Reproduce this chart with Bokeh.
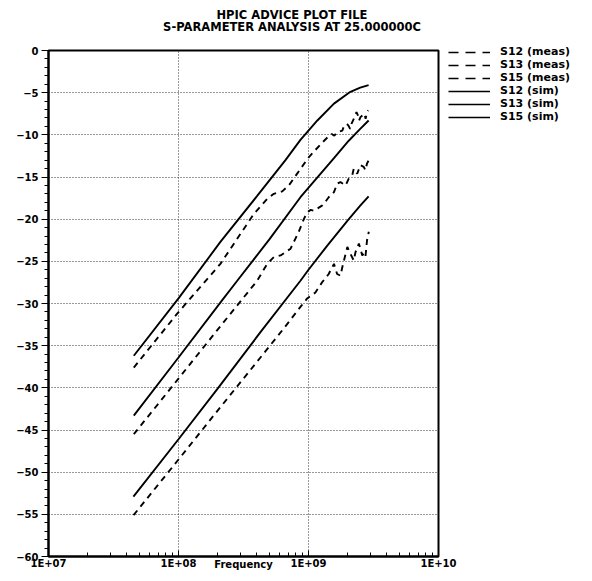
from bokeh.plotting import figure
from bokeh.layouts import column, row
from bokeh.models import (Range1d, FixedTicker, CustomJSTickFormatter, Div,
                          Legend, LegendItem)
from bokeh.embed import file_html
from bokeh.resources import INLINE

# ---------------- data ----------------
title_lines = ["HPIC ADVICE PLOT FILE", "S-PARAMETER ANALYSIS AT 25.000000C"]
x_label = "Frequency"
x_ticks = [1e7, 1e8, 1e9, 1e10]
x_tick_labels = ["1E+07", "1E+08", "1E+09", "1E+10"]
y_ticks = [0, -5, -10, -15, -20, -25, -30, -35, -40, -45, -50, -55, -60]
series_names = ["S12 (meas)", "S13 (meas)", "S15 (meas)",
                "S12 (sim)", "S13 (sim)", "S15 (sim)"]

# simulated (Hz, dB)
f_s12_sim = [4.53e7, 1.0e8, 2.1e8, 4.0e8, 6.65e8, 8.67e8, 1.17e9, 1.57e9, 2.1e9, 2.5e9, 2.9e9]
s12_sim = [-36.2, -29.4, -22.7, -17.3, -13.0, -10.6, -8.3, -6.3, -4.9, -4.4, -4.1]

f_s13_sim = [4.53e7, 1.0e8, 2.17e8, 2.83e8, 5.0e8, 8.67e8, 1.24e9, 1.6e9, 2.04e9, 2.5e9, 2.9e9]
s13_sim = [-43.3, -36.4, -29.6, -27.3, -22.4, -17.4, -14.6, -12.6, -10.7, -9.3, -8.3]

f_s15_sim = [4.5e7, 1.0e8, 2.0e8, 4.27e8, 8.67e8, 1.0e9, 1.4e9, 1.99e9, 2.5e9, 2.9e9]
s15_sim = [-52.9, -46.1, -40.1, -33.4, -27.3, -26.0, -23.1, -20.2, -18.4, -17.3]

# measured (Hz, dB)
f_s12_meas = [4.53e7, 9.77e7, 2.1e8, 3.79e8, 4.81e8, 5.41e8, 6.28e8, 7.06e8, 8.18e8,
              9.48e8, 1.0e9, 1.26e9, 1.40e9, 1.51e9, 1.58e9, 1.66e9, 1.82e9, 1.86e9,
              1.97e9, 2.03e9, 2.09e9, 2.14e9, 2.26e9, 2.34e9, 2.40e9, 2.45e9, 2.51e9,
              2.69e9, 2.75e9, 2.82e9, 2.88e9]
s12_meas = [-37.6, -31.2, -25.3, -19.4, -17.6, -17.0, -16.7, -16.0, -14.6,
            -13.2, -12.7, -11.0, -10.3, -9.9, -10.1, -9.7, -9.5, -9.1,
            -8.7, -8.9, -9.3, -8.7, -7.9, -7.3, -7.7, -8.3, -7.9,
            -7.5, -8.1, -7.3, -7.1]

f_s13_meas = [4.53e7, 1.0e8, 2.0e8, 4.03e8, 4.81e8, 5.41e8, 6.1e8, 7.28e8, 8.41e8,
              9.2e8, 9.77e8, 1.04e9, 1.1e9, 1.27e9, 1.31e9, 1.43e9, 1.48e9, 1.57e9,
              1.66e9, 1.76e9, 1.93e9, 2.04e9, 2.17e9, 2.23e9, 2.37e9, 2.51e9, 2.66e9,
              2.74e9, 2.82e9, 2.91e9]
s13_meas = [-45.5, -38.9, -33.1, -27.3, -25.3, -24.5, -24.3, -23.5, -21.5,
            -20.0, -19.2, -18.9, -19.0, -18.4, -18.2, -17.4, -17.2, -16.8,
            -15.8, -15.6, -16.0, -15.2, -14.8, -14.0, -14.6, -13.6, -13.8,
            -14.2, -13.4, -13.0]

f_s15_meas = [4.51e7, 1.0e8, 2.0e8, 4.27e8, 6.5e8, 8.67e8, 9.77e8, 1.13e9, 1.27e9,
              1.43e9, 1.57e9, 1.66e9, 1.76e9, 1.82e9, 1.93e9, 1.99e9, 2.10e9, 2.23e9,
              2.30e9, 2.44e9, 2.51e9, 2.59e9, 2.66e9, 2.74e9, 2.82e9, 2.91e9]
s15_meas = [-55.1, -48.5, -42.7, -36.4, -32.9, -30.4, -29.4, -28.7, -27.5,
            -26.5, -25.3, -26.5, -26.7, -25.7, -24.1, -23.3, -24.1, -24.9,
            -23.9, -22.9, -23.5, -24.3, -24.1, -24.5, -22.5, -21.5]

meas = [(f_s12_meas, s12_meas), (f_s13_meas, s13_meas), (f_s15_meas, s15_meas)]
sim = [(f_s12_sim, s12_sim), (f_s13_sim, s13_sim), (f_s15_sim, s15_sim)]

# ---------------- main figure ----------------
FONT = "DejaVu Sans"
TITLE_H = 40
PLOT_H = 573 - TITLE_H
MAIN_W = 462          # frame 48..438, room on the right for the "1E+10" label
OVERLAP = 22          # legend panel slides over the main figure's empty right border
LEG_W = 584 - MAIN_W + OVERLAP

p = figure(width=MAIN_W, height=PLOT_H, x_axis_type="log",
           x_range=Range1d(1e7, 1e10), y_range=Range1d(-60, 0),
           output_backend="svg", toolbar_location=None,
           min_border_left=48, min_border_right=MAIN_W - 438,
           min_border_top=10, min_border_bottom=17)
p.background_fill_color = "white"
p.border_fill_color = "white"
p.outline_line_color = "black"
p.outline_line_width = 2

minor_x = [m * 10 ** e for e in range(7, 10) for m in range(2, 10)]
xt = FixedTicker(ticks=x_ticks, minor_ticks=minor_x)
yt = FixedTicker(ticks=y_ticks, minor_ticks=list(range(-60, 1)))

xa = p.xaxis[0]
xa.ticker = xt
xa.formatter = CustomJSTickFormatter(
    args=dict(vals=x_ticks, labs=x_tick_labels),
    code="""
    for (let i = 0; i < vals.length; i++) {
        if (Math.abs(Math.log10(tick) - Math.log10(vals[i])) < 1e-6) return labs[i];
    }
    return "";
    """)
xa.axis_label = x_label
xa.axis_label_text_font = FONT
xa.axis_label_text_font_style = "bold"
xa.axis_label_text_font_size = "10px"
xa.axis_label_text_color = "black"
xa.axis_label_standoff = -13
xa.major_label_text_font = FONT
xa.major_label_text_font_style = "bold"
xa.major_label_text_font_size = "10px"
xa.major_label_text_color = "black"
xa.major_label_standoff = 1
xa.major_tick_in = 6
xa.major_tick_out = 0
xa.minor_tick_in = 4
xa.minor_tick_out = 0
xa.axis_line_width = 2
xa.axis_line_color = "black"
xa.major_tick_line_color = "black"
xa.minor_tick_line_color = "black"

ya = p.yaxis[0]
ya.ticker = yt
ya.major_label_text_font = FONT
ya.major_label_text_font_style = "bold"
ya.major_label_text_font_size = "10px"
ya.major_label_text_color = "black"
ya.major_label_standoff = 3
ya.major_tick_in = 0
ya.major_tick_out = 7
ya.minor_tick_in = 0
ya.minor_tick_out = 4
ya.axis_line_width = 2
ya.axis_line_color = "black"
ya.major_tick_line_color = "black"
ya.minor_tick_line_color = "black"

p.xgrid.ticker = xt
p.ygrid.ticker = yt
for g in (p.xgrid[0], p.ygrid[0]):
    g.grid_line_color = "#333333"
    g.grid_line_dash = "1 2"
    g.grid_line_width = 1

LW = 1.9
DASH = "6 5"
for fx, vy in meas:
    p.line(fx, vy, line_color="black", line_width=LW, line_dash=DASH)
for fx, vy in sim:
    p.line(fx, vy, line_color="black", line_width=LW)

# ---------------- legend panel (separate figure to the right) ----------------
pl = figure(width=LEG_W, height=PLOT_H, x_axis_type="log", title=None,
            x_range=Range1d(1e7, 1e10), y_range=Range1d(-60, 0),
            output_backend="svg", toolbar_location=None,
            x_axis_location=None, y_axis_location=None, min_border=0,
            margin=(0, 0, 0, -OVERLAP))
pl.outline_line_color = None
pl.grid.visible = False
pl.background_fill_alpha = 0
pl.border_fill_alpha = 0

# keep the legend panel's frame independent of the main plot's frame, if supported
if "frame_align" in type(pl).properties():
    pl.frame_align = False
    p.frame_align = False
    LEG_Y = 450   # legend bottom measured from the panel's own bottom edge
else:
    LEG_Y = 427   # frames aligned: stay inside the aligned frame

leg_renderers = []
for fx, vy in meas:
    leg_renderers.append(pl.line(fx, vy, line_color="black", line_width=1.6,
                                 line_dash="10 7", visible=False))
for fx, vy in sim:
    leg_renderers.append(pl.line(fx, vy, line_color="black", line_width=1.6,
                                 visible=False))

items = [LegendItem(label=n, renderers=[r]) for n, r in zip(series_names, leg_renderers)]
legend = Legend(items=items, location=(8, LEG_Y), orientation="vertical",
                padding=0, margin=0, spacing=0,
                glyph_width=42, glyph_height=12, label_height=12,
                label_standoff=10,
                label_text_font=FONT, label_text_font_style="bold",
                label_text_font_size="11px", label_text_color="black",
                inactive_fill_alpha=0,
                border_line_alpha=0, background_fill_alpha=0)
pl.add_layout(legend, "center")

# ---------------- title (two centred lines above the plot) ----------------
title = Div(text="<br>".join(title_lines), width=584, height=TITLE_H, margin=0,
            styles={"font-family": "DejaVu Sans", "font-weight": "bold",
                    "font-size": "11.5px", "line-height": "12.5px",
                    "text-align": "center", "color": "black",
                    "padding-top": "8.5px", "box-sizing": "border-box",
                    "width": "584px"})

layout = column(title, row(p, pl, spacing=0), spacing=0)
open("out.html", "w").write(file_html(layout, INLINE))
